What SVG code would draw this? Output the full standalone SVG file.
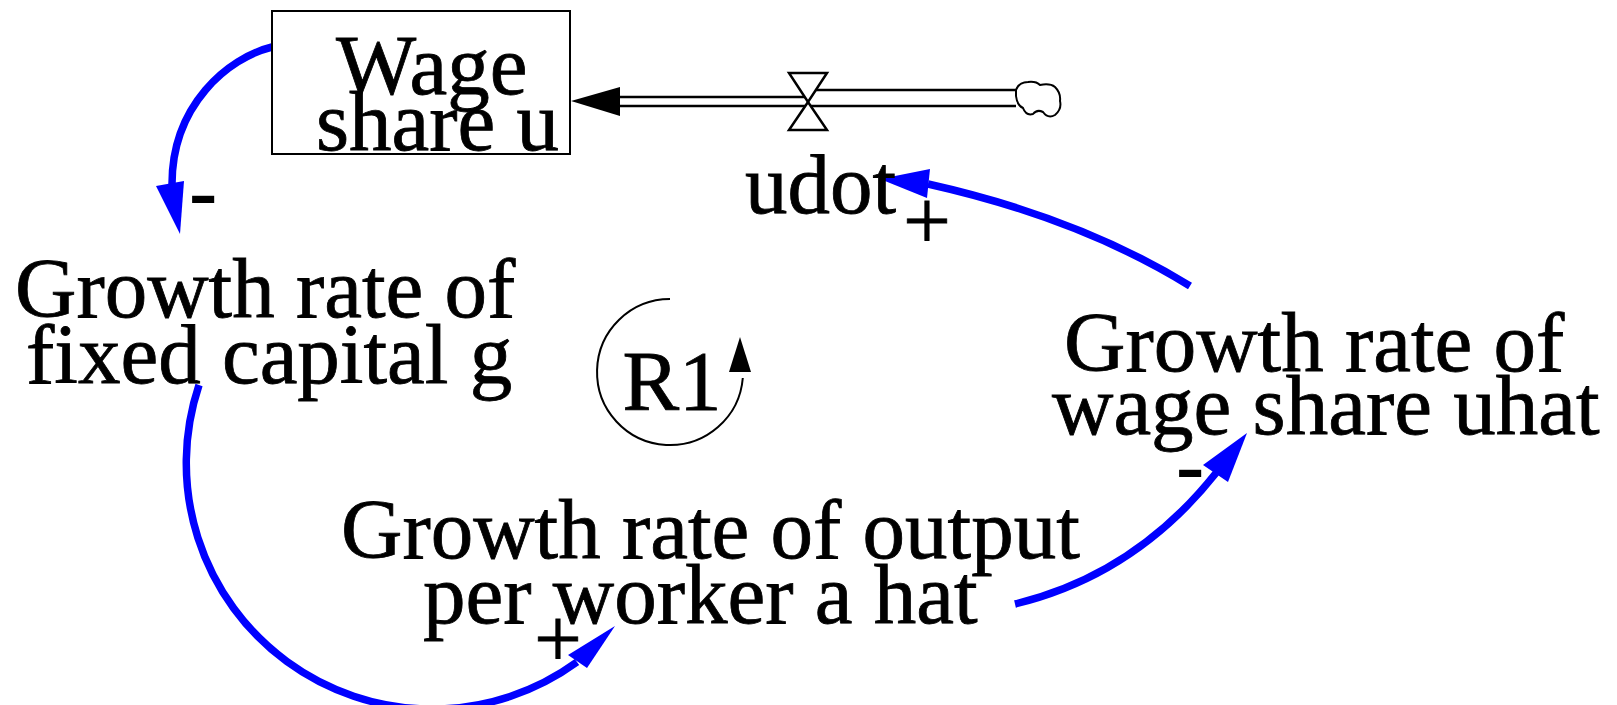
<svg xmlns="http://www.w3.org/2000/svg" width="1617" height="705" viewBox="0 0 1617 705">
<style>
text{font-family:'Liberation Serif','Times New Roman',serif;font-size:85px;fill:#000;stroke:#000;stroke-width:0.8}
.link{fill:none;stroke:#0000ff;stroke-width:7.5}
.head{fill:#0000ff;stroke:none}
.pipe{stroke:#000;stroke-width:2.5;fill:none}
.neg{font-weight:bold;stroke-width:0}
</style>
<rect x="0" y="0" width="1617" height="705" fill="#fff"/>
<g id="connectors" font-family="Liberation Serif, Times New Roman, serif">
<path class="link" d="M272,47 C228,58 172,105 172,184"/>
<polygon class="head" points="180,234 156,186 184,181"/>
<path class="link" d="M199,385 A246,246 0 0 0 577,662"/>
<polygon class="head" points="615,626 568,655 587,668"/>
<path class="link" d="M1015,604 Q1135,575 1216,473"/>
<polygon class="head" points="1247,433 1203,465 1228,482"/>
<path class="link" d="M1190,286 Q1080,218 928,184"/>
<polygon class="head" points="880,179 930,169 927,198"/>
<text class="neg" x="189" y="219">-</text>
<text x="558" y="667" text-anchor="middle">+</text>
<text class="neg" x="1176" y="493">-</text>
<text x="927" y="249" text-anchor="middle">+</text>
</g>
<g id="flow-udot" font-family="Liberation Serif, Times New Roman, serif">
<line class="pipe" x1="615" y1="97" x2="808" y2="97"/>
<line class="pipe" x1="615" y1="106" x2="1016" y2="106"/>
<line class="pipe" x1="808" y1="90" x2="1016" y2="90"/>
<polygon points="571,101 620,87 620,116" fill="#000"/>
<polygon points="789,73 827,73 808,102" fill="#fff" stroke="#000" stroke-width="2.5"/>
<polygon points="789,130 827,130 808,102" fill="#fff" stroke="#000" stroke-width="2.5"/>
<path d="M1016,90 q3,-8 12,-8 q8,-1 12,3 q10,-2 15,2 q6,6 5,14 q2,8 -5,14 q-7,4 -12,-3 q-6,-3 -10,2 q-7,2 -10,-6 q-6,-3 -7,-12 z" fill="#fff" stroke="#000" stroke-width="2"/>
<text x="745" y="213">udot</text>
</g>
<g id="wage-share-u" font-family="Liberation Serif, Times New Roman, serif">
<rect x="272" y="11" width="298" height="143" fill="#fff" stroke="#000" stroke-width="2"/>
<text x="336" y="94">Wage</text>
<text x="316" y="150">share u</text>
</g>
<g id="growth-fixed-capital" font-family="Liberation Serif, Times New Roman, serif">
<text x="15" y="317">Growth rate of</text>
<text x="26" y="383">fixed capital g</text>
</g>
<g id="growth-wage-share" font-family="Liberation Serif, Times New Roman, serif">
<text x="1064" y="371">Growth rate of</text>
<text x="1052" y="434">wage share uhat</text>
</g>
<g id="growth-output" font-family="Liberation Serif, Times New Roman, serif">
<text x="341" y="558">Growth rate of output</text>
<text x="423" y="623">per worker a hat</text>
</g>
<g id="loop-R1" font-family="Liberation Serif, Times New Roman, serif">
<path d="M670,299 A73,73 0 1 0 742.8,378" fill="none" stroke="#000" stroke-width="2"/>
<polygon points="740,337 729,372 751,372" fill="#000"/>
<text x="672" y="410" text-anchor="middle">R1</text>
</g>
</svg>
